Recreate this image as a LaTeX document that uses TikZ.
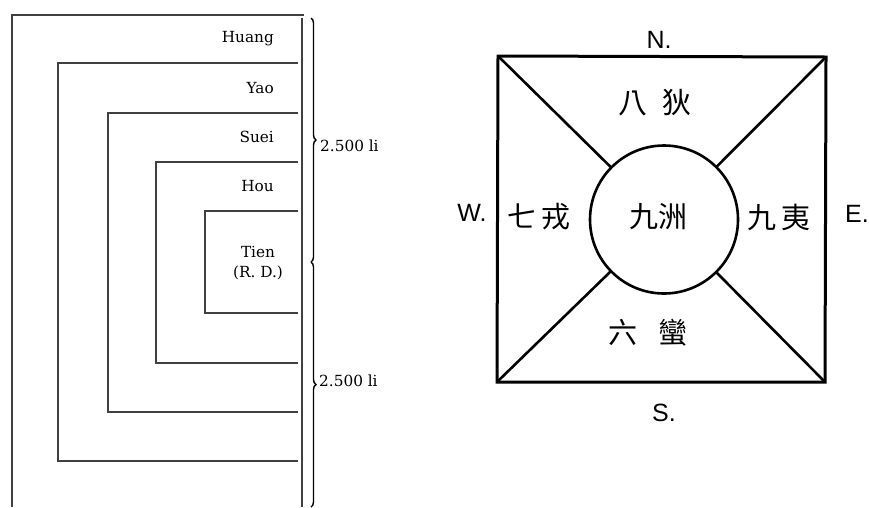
\documentclass[tikz,border=0pt]{standalone}
\usepackage{fontspec}
\newfontfamily\cjk{Noto Sans CJK TC}
\newfontfamily\lat{Liberation Sans}
\newfontfamily\oldser{DejaVu Serif}
\usetikzlibrary{decorations.pathreplacing}
\begin{document}
\begin{tikzpicture}[x=1pt,y=-1pt,
  thinln/.style={line width=1.1pt, black!75},
  bracestyle/.style={line width=1.4pt, black, decorate, decoration={brace, amplitude=5pt, aspect=0.5}},
  zone/.style={inner sep=0pt, font=\oldser\fontsize{15.3}{18}\selectfont},
  dist/.style={inner sep=0pt, anchor=west, font=\oldser\fontsize{15.3}{18}\selectfont},
  compass/.style={inner sep=0pt, font=\lat\fontsize{25}{27}\selectfont},
  hanzi/.style={inner sep=0pt, font=\cjk\fontsize{29}{32}\selectfont},
  heavy/.style={line width=3pt, black, line join=miter},
  spoke/.style={line width=2.6pt, black, shorten >=-1pt}]
\useasboundingbox (0,0) rectangle (869,507);
% ---------- left diagram ----------
\coordinate (o1) at (12,507);
\coordinate (o2) at (12,15);
\coordinate (o3) at (304,15);
\coordinate (r1) at (302,18);
\coordinate (r2) at (302,507);
\draw[thinln] (o1) -- (o2) -- (o3);
\draw[thinln] (r1) -- (r2);
\foreach \xl/\yt/\yb in {58/63/461, 108/113/412, 156/162/363, 205/211/313}
  \draw[thinln] (298,\yt) -- (\xl,\yt) -- (\xl,\yb) -- (298,\yb);
\node[zone, anchor=east] (huang) at (274,39) {Huang};
\node[zone, anchor=east] (yao) at (274,88) {Yao};
\node[zone, anchor=east] (suei) at (274,137) {Suei};
\node[zone, anchor=east] (hou) at (274,186) {Hou};
\node[zone, align=center] (tien) at (258,263) {Tien\\[2pt](R.\ D.)};
\coordinate (b1) at (311,18);
\coordinate (b2) at (311,262);
\coordinate (b3) at (311,507);
\draw[bracestyle] (b1) -- (b2);
\draw[bracestyle] (b2) -- (b3);
\node[dist] (d1) at (320,146) {2.500 li};
\node[dist] (d2) at (319,381) {2.500 li};
% ---------- right diagram ----------
\coordinate (tl) at (498,56);
\coordinate (tr) at (826,57);
\coordinate (br) at (825,382);
\coordinate (bl) at (497,382);
\draw[heavy] (tl) -- (tr) -- (br) -- (bl) -- cycle;
\node[circle, draw, line width=2.6pt, minimum size=148pt, inner sep=0pt] (c) at (664,219.5) {};
\draw[spoke] (tl) -- (c);
\draw[spoke] (tr) -- (c);
\draw[spoke] (br) -- (c);
\draw[spoke] (bl) -- (c);
\node[hanzi] (center) at (658,217) {九洲};
\node[hanzi] (north) at (655,103) {八\hspace{16pt}狄};
\node[hanzi] (south) at (648,333) {六\hspace{22pt}蠻};
\node[hanzi] (west) at (539,217) {七\hspace{6pt}戎};
\node[hanzi] (east) at (779,217) {九\hspace{5pt}夷};
\node[compass] (N) at (659,40) {N.};
\node[compass] (S) at (664,413) {S.};
\node[compass] (W) at (472,213) {W.};
\node[compass] (E) at (857,214) {E.};
\end{tikzpicture}
\end{document}
